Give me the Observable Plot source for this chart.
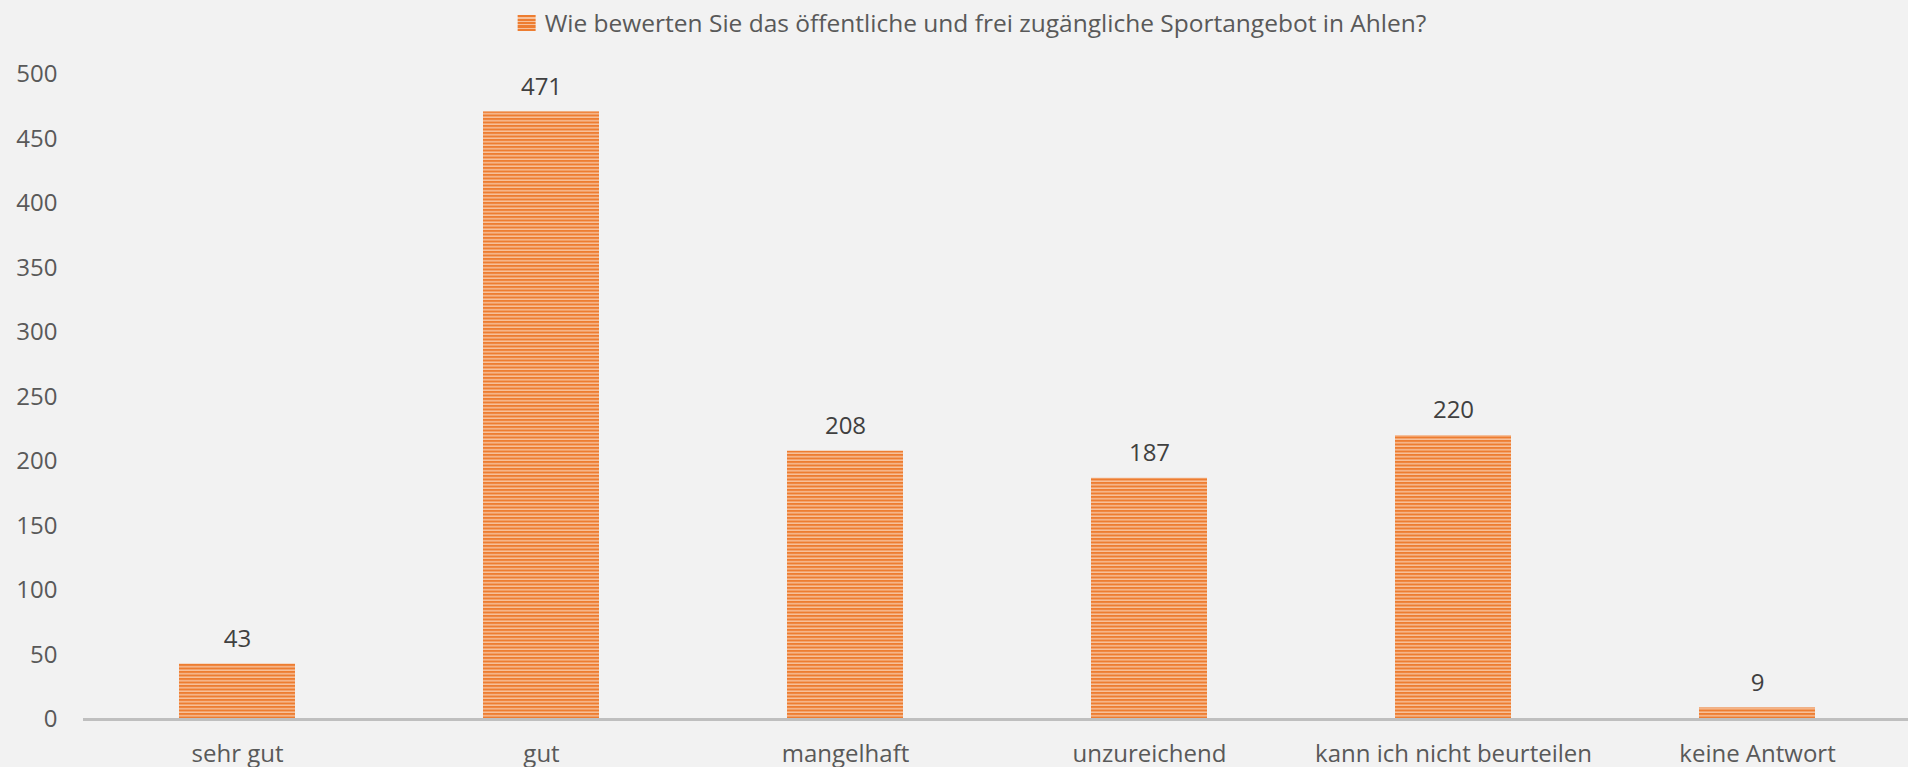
<!DOCTYPE html>
<html><head><meta charset="utf-8">
<script src="https://cdn.jsdelivr.net/npm/d3@7"></script>
<script src="https://cdn.jsdelivr.net/npm/@observablehq/plot@0.6"></script>
<style>
html,body{margin:0;padding:0;background:#f2f2f2;overflow:hidden;width:1908px;height:767px;font-family:"Open Sans",sans-serif;}
#legend{position:relative;height:48px;}
#legend .item{position:absolute;left:972px;top:7px;transform:translateX(-50%);display:flex;align-items:center;white-space:nowrap;font-size:24.5px;color:#595959;line-height:32px;}
#legend .sw{display:inline-block;width:18px;height:16px;margin-right:9px;background:repeating-linear-gradient(to bottom,#ed7d31 0px,#ed7d31 2px,#f7c19b 2px,#f7c19b 3.5px);}
#chart svg{display:block;overflow:visible;}
</style></head>
<body>
<div id="legend"><div class="item"><span class="sw"></span><span id="lt"></span></div></div>
<div id="chart"></div>
<script>
const seriesName = "Wie bewerten Sie das öffentliche und frei zugängliche Sportangebot in Ahlen?";
const categories = ["sehr gut", "gut", "mangelhaft", "unzureichend", "kann ich nicht beurteilen", "keine Antwort"];
const values = [43, 471, 208, 187, 220, 9];
const yTicks = [0, 50, 100, 150, 200, 250, 300, 350, 400, 450, 500];

document.getElementById("lt").textContent = seriesName;

const data = categories.map((c, i) => ({category: c, value: values[i]}));

const defsMark = () => {
  const ns = "http://www.w3.org/2000/svg";
  const g = document.createElementNS(ns, "g");
  g.innerHTML = '<defs><pattern id="stripes" patternUnits="userSpaceOnUse" width="8" height="3.5"><rect width="8" height="3.5" fill="#f7c19b"></rect><rect width="8" height="2" fill="#ed7d31"></rect></pattern></defs>';
  return g;
};

const chart = Plot.plot({
  width: 1908,
  height: 719,
  marginLeft: 83,
  marginRight: 0,
  marginTop: 26,
  marginBottom: 48,
  style: {background: "transparent", fontFamily: "Open Sans", fontSize: "24px", color: "#595959", overflow: "visible"},
  x: {domain: categories, range: [83, 1911], paddingInner: 0.62, paddingOuter: 0.31, label: null},
  y: {domain: [0, 500], label: null},
  marks: [
    defsMark,
    Plot.barY(data, {x: "category", y: "value", fill: "url(#stripes)"}),
    Plot.ruleY([0], {stroke: "#bfbfbf", strokeWidth: 3}),
    Plot.text(data, {x: "category", y: "value", text: d => String(d.value), dy: -25, fill: "#404040", fontSize: 24}),
    Plot.axisY({ticks: yTicks, tickSize: 0, tickPadding: 26, label: null, fontSize: 24, fill: "#595959"}),
    Plot.axisX({tickSize: 0, tickPadding: 25, label: null, fontSize: 24, fill: "#595959"})
  ]
});
document.getElementById("chart").appendChild(chart);
</script>
</body></html>
